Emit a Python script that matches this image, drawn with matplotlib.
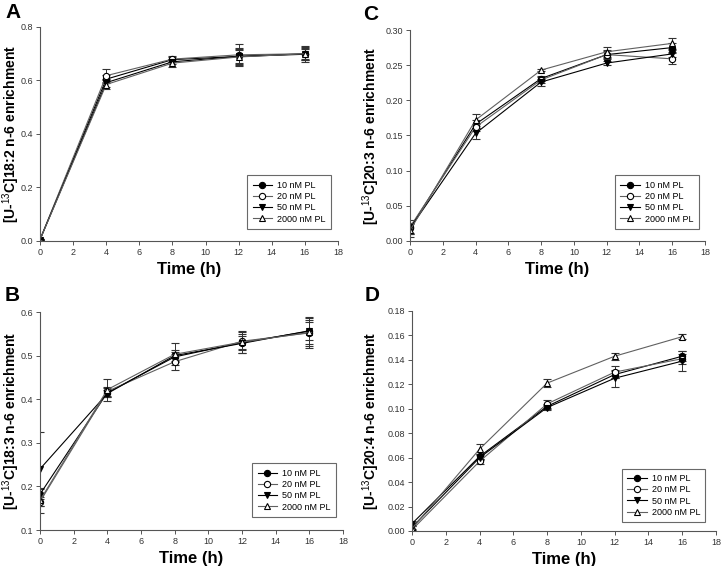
import matplotlib
matplotlib.use("Agg")
import matplotlib.pyplot as plt

plt.rcParams["font.family"] = ["Liberation Sans", "DejaVu Sans"]
plt.rcParams["mathtext.fontset"] = "custom"
plt.rcParams["mathtext.bf"] = "Liberation Sans:bold"
plt.rcParams["mathtext.rm"] = "Liberation Sans"

time_h = [0, 4, 8, 12, 16]
labels = ["10 nM PL", "20 nM PL", "50 nM PL", "2000 nM PL"]

# panel A: [U-13C]18:2 n-6
a_vals = [
    [0.005, 0.605, 0.678, 0.690, 0.700],
    [0.005, 0.618, 0.680, 0.696, 0.700],
    [0.005, 0.592, 0.670, 0.690, 0.698],
    [0.005, 0.585, 0.665, 0.688, 0.700],
]
a_err = [
    [0.003, 0.015, 0.010, 0.030, 0.020],
    [0.003, 0.025, 0.010, 0.040, 0.025],
    [0.003, 0.015, 0.010, 0.025, 0.020],
    [0.003, 0.015, 0.015, 0.030, 0.030],
]

# panel B: [U-13C]18:3 n-6
b_vals = [
    [0.182, 0.415, 0.497, 0.530, 0.556],
    [0.165, 0.418, 0.486, 0.533, 0.552],
    [0.240, 0.413, 0.500, 0.528, 0.557],
    [0.168, 0.422, 0.503, 0.531, 0.553],
]
b_err = [
    [0.012, 0.010, 0.012, 0.015, 0.020],
    [0.010, 0.010, 0.018, 0.020, 0.030],
    [0.085, 0.008, 0.012, 0.022, 0.030],
    [0.028, 0.025, 0.025, 0.025, 0.035],
]

# panel C: [U-13C]20:3 n-6
c_vals = [
    [0.018, 0.166, 0.231, 0.265, 0.275],
    [0.020, 0.162, 0.229, 0.265, 0.259],
    [0.018, 0.153, 0.226, 0.253, 0.266],
    [0.015, 0.172, 0.243, 0.269, 0.281],
]
c_err = [
    [0.006, 0.006, 0.004, 0.006, 0.006],
    [0.010, 0.005, 0.004, 0.005, 0.008],
    [0.008, 0.008, 0.005, 0.003, 0.005],
    [0.010, 0.009, 0.002, 0.007, 0.008],
]

# panel D: [U-13C]20:4 n-6
d_vals = [
    [0.006, 0.061, 0.102, 0.128, 0.143],
    [0.001, 0.057, 0.104, 0.130, 0.141],
    [0.003, 0.060, 0.101, 0.125, 0.139],
    [0.002, 0.067, 0.121, 0.143, 0.159],
]
d_err = [
    [0.002, 0.002, 0.002, 0.003, 0.004],
    [0.001, 0.002, 0.003, 0.005, 0.004],
    [0.002, 0.002, 0.002, 0.007, 0.008],
    [0.002, 0.004, 0.003, 0.003, 0.002],
]

styles = [
    dict(marker="o", mfc="black", color="black"),
    dict(marker="o", mfc="white", color="#606060"),
    dict(marker="v", mfc="black", color="black"),
    dict(marker="^", mfc="white", color="#606060"),
]

W, H = 721, 566


def fig_box(left, top, right, bottom):
    # pixel box -> figure fraction [l, b, w, h]
    return [left / W, 1 - bottom / H, (right - left) / W, (bottom - top) / H]


panels = [
    ("A", (40, 27, 338, 241), (5, 3), a_vals, a_err, (0, 0.8), [0, 0.2, 0.4, 0.6, 0.8], "%.1f",
     "[U-$^{13}$C]18:2 n-6 enrichment", (40 - 11), (0.695, 0.056)),
    ("C", (410, 30, 705, 241), (363, 5), c_vals, c_err, (0, 0.30), [0, 0.05, 0.10, 0.15, 0.20, 0.25, 0.30], "%.2f",
     "[U-$^{13}$C]20:3 n-6 enrichment", (410 - 371), (0.695, 0.057)),
    ("B", (40, 312, 343, 530), (5, 286), b_vals, b_err, (0.1, 0.6), [0.1, 0.2, 0.3, 0.4, 0.5, 0.6], "%.1f",
     "[U-$^{13}$C]18:3 n-6 enrichment", (40 - 11), (0.70, 0.06)),
    ("D", (412, 311, 716, 531), (365, 286), d_vals, d_err, (0, 0.18), [0, 0.02, 0.04, 0.06, 0.08, 0.10, 0.12, 0.14, 0.16, 0.18], "%.2f",
     "[U-$^{13}$C]20:4 n-6 enrichment", (412 - 371), (0.69, 0.04)),
]

fig = plt.figure(figsize=(7.21, 5.66), dpi=100)

for letter, box, lpos, vals, errs, ylim, yticks, fmt, ylabel, yl_off, legpos in panels:
    ax = fig.add_axes(fig_box(*box))
    handles = []
    for v, e, lab, st in zip(vals, errs, labels, styles):
        cont = ax.errorbar(time_h, v, yerr=e, label=lab, marker=st["marker"], mfc=st["mfc"],
                           mec="black", ms=4.5, mew=0.8, color=st["color"], lw=0.8,
                           ecolor="#333333", elinewidth=0.7, capsize=3, capthick=0.7)
        handles.append(cont[0])
    ax.set_xlim(0, 18)
    ax.set_ylim(*ylim)
    ax.set_xticks(range(0, 19, 2))
    ax.set_yticks(yticks)
    ax.set_yticklabels([fmt % t for t in yticks])
    for s in ("top", "right"):
        ax.spines[s].set_visible(False)
    for s in ("left", "bottom"):
        ax.spines[s].set_color("#555555")
        ax.spines[s].set_linewidth(0.8)
    ax.tick_params(direction="out", length=3, width=0.7, colors="#555555",
                   labelsize=6.5, labelcolor="#333333", pad=2)
    w_px = box[2] - box[0]
    h_px = box[3] - box[1]
    ax.set_xlabel("Time (h)", fontsize=12, fontweight="bold")
    ax.xaxis.set_label_coords(0.5, -21.0 / h_px)
    ax.set_ylabel(ylabel, fontsize=10, fontweight="bold")
    ax.yaxis.set_label_coords(-yl_off / w_px, 0.5)
    ax.yaxis.label.set_va("center")
    leg = ax.legend(handles=handles, labels=labels, loc="lower left", bbox_to_anchor=legpos,
                    borderaxespad=0, fontsize=6.5, frameon=True, fancybox=False,
                    edgecolor="#444444", handlelength=2.2, borderpad=0.6,
                    labelspacing=0.25, handletextpad=0.5)
    leg.get_frame().set_linewidth(0.8)
    fig.text(lpos[0] / W, 1 - lpos[1] / H, letter, fontsize=15,
             fontweight="bold", va="top", ha="left")

fig.savefig("out.png", dpi=100)
